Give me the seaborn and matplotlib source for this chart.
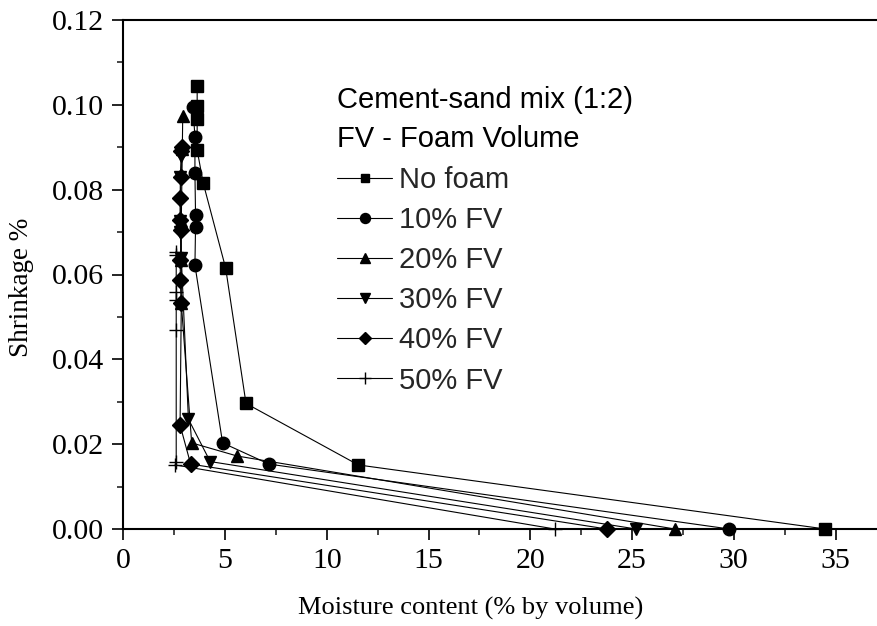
import matplotlib
matplotlib.use("Agg")
import matplotlib.pyplot as plt
import seaborn as sns
import pandas as pd
from matplotlib.lines import Line2D

# ---- data ----
nofoam_x = [3.63, 3.63, 3.63, 3.63, 3.93, 5.03, 6.03, 11.55, 34.5]
nofoam_y = [0.1044, 0.0997, 0.0966, 0.0893, 0.0815, 0.0615, 0.0296, 0.0151, 0.0]

fv10_x = [3.42, 3.52, 3.52, 3.55, 3.55, 3.52, 4.88, 7.16, 29.78]
fv10_y = [0.0996, 0.0925, 0.0840, 0.0740, 0.0713, 0.0622, 0.0203, 0.0153, 0.0]

fv20_x = [2.92, 2.90, 2.85, 2.85, 2.85, 3.36, 5.60, 27.1]
fv20_y = [0.0974, 0.0895, 0.0725, 0.0635, 0.0532, 0.0203, 0.0172, 0.0]

fv30_x = [2.85, 2.80, 2.80, 2.80, 2.85, 3.20, 4.27, 25.2]
fv30_y = [0.0880, 0.0830, 0.0725, 0.0700, 0.0640, 0.0259, 0.0159, 0.0]

fv40_x = [2.90, 2.85, 2.85, 2.80, 2.80, 2.85, 2.80, 2.80, 2.85, 2.79, 3.31, 23.76]
fv40_y = [0.0901, 0.0890, 0.0831, 0.0780, 0.0728, 0.0705, 0.0634, 0.0587, 0.0532, 0.0245, 0.0153, 0.0]

fv50_x = [2.60, 2.60, 2.60, 2.60, 2.60, 2.60, 2.55, 21.2]
fv50_y = [0.0654, 0.0646, 0.0559, 0.0540, 0.0469, 0.0159, 0.0151, 0.0]

labels = ["No foam", "10% FV", "20% FV", "30% FV", "40% FV", "50% FV"]
header = ["Cement-sand mix (1:2)", "FV - Foam Volume"]
x_label = "Moisture content (% by volume)"
y_label = "Shrinkage %"
xticks = [0, 5, 10, 15, 20, 25, 30, 35]
yticks = [0.00, 0.02, 0.04, 0.06, 0.08, 0.10, 0.12]

series = [(nofoam_x, nofoam_y), (fv10_x, fv10_y), (fv20_x, fv20_y),
          (fv30_x, fv30_y), (fv40_x, fv40_y), (fv50_x, fv50_y)]
markers = ["s", "o", "^", "v", "D", "+"]
msizes = [8, 9, 9, 9, 8, 10]

sns.set_theme(style="white")
plt.rcParams["font.family"] = ["Liberation Serif", "DejaVu Serif"]

fig = plt.figure(figsize=(8.78, 6.26), dpi=100)
ax = fig.add_axes([123.3 / 878, 1 - 529 / 626, 1 - 123.3 / 878, (529 - 20) / 626])

handles = []
for (xs, ys), lab, m, ms in zip(series, labels, markers, msizes):
    df = pd.DataFrame({"x": xs, "y": ys})
    sns.lineplot(data=df, x="x", y="y", sort=False, estimator=None, ax=ax,
                 color="black", linewidth=0.8, marker=m, markersize=ms,
                 markeredgecolor="black", markerfacecolor="black",
                 markeredgewidth=1.0, clip_on=False, legend=False)
    handles.append(Line2D([], [], color="black", linewidth=0.8, marker=m,
                          markersize=ms * 0.8, markerfacecolor="black",
                          markeredgecolor="black", markeredgewidth=1.0, label=lab))

ax.set_xlim(0, (878 - 123.3) / 20.35)
ax.set_ylim(0, 0.12)
ax.set_xticks(xticks)
ax.set_xticklabels([str(t) for t in xticks])
ax.set_yticks(yticks)
ax.set_yticklabels([f"{t:.2f}" for t in yticks])
ax.set_xticks([2.5 + 5 * i for i in range(7)], minor=True)
ax.set_yticks([0.01 + 0.02 * i for i in range(6)], minor=True)
ax.tick_params(axis="both", which="major", direction="out", length=8, width=1.2,
               labelsize=21.5, pad=6, bottom=True, left=True, colors="black")
ax.tick_params(axis="both", which="minor", direction="out", length=4, width=1.2,
               bottom=True, left=True)
ax.set_xlabel(x_label, fontsize=19, color="black")
ax.set_ylabel(y_label, fontsize=19.5, color="black")
ax.xaxis.set_label_coords((471 - 123.3) / (878 - 123.3), -(608 - 529) / 509, transform=ax.transAxes)
ax.yaxis.set_label_coords(-(123.3 - 21) / (878 - 123.3), (529 - 287) / 509, transform=ax.transAxes)
ax.xaxis.label.set_va("center")
ax.yaxis.label.set_va("center")

for s in ["left", "bottom", "top"]:
    ax.spines[s].set_visible(True)
    ax.spines[s].set_color("black")
    ax.spines[s].set_linewidth(1.5)
ax.spines["right"].set_visible(False)
ax.grid(False)

sans = ["Liberation Sans", "DejaVu Sans"]
ax.text(337 / 878, 1 - 100 / 626, header[0], transform=fig.transFigure,
        fontsize=21, family=sans, va="center", ha="left", color="black")
ax.text(337 / 878, 1 - 139 / 626, header[1], transform=fig.transFigure,
        fontsize=21, family=sans, va="center", ha="left", color="black")

leg = ax.legend(handles=handles, loc="upper left",
                bbox_to_anchor=(337 / 878, 1 - 166 / 626),
                bbox_transform=fig.transFigure, frameon=False,
                prop={"family": sans, "size": 21}, handlelength=1.9,
                handletextpad=0.22, labelspacing=0.415, borderpad=0,
                borderaxespad=0)

fig.savefig("out.png", dpi=100)
